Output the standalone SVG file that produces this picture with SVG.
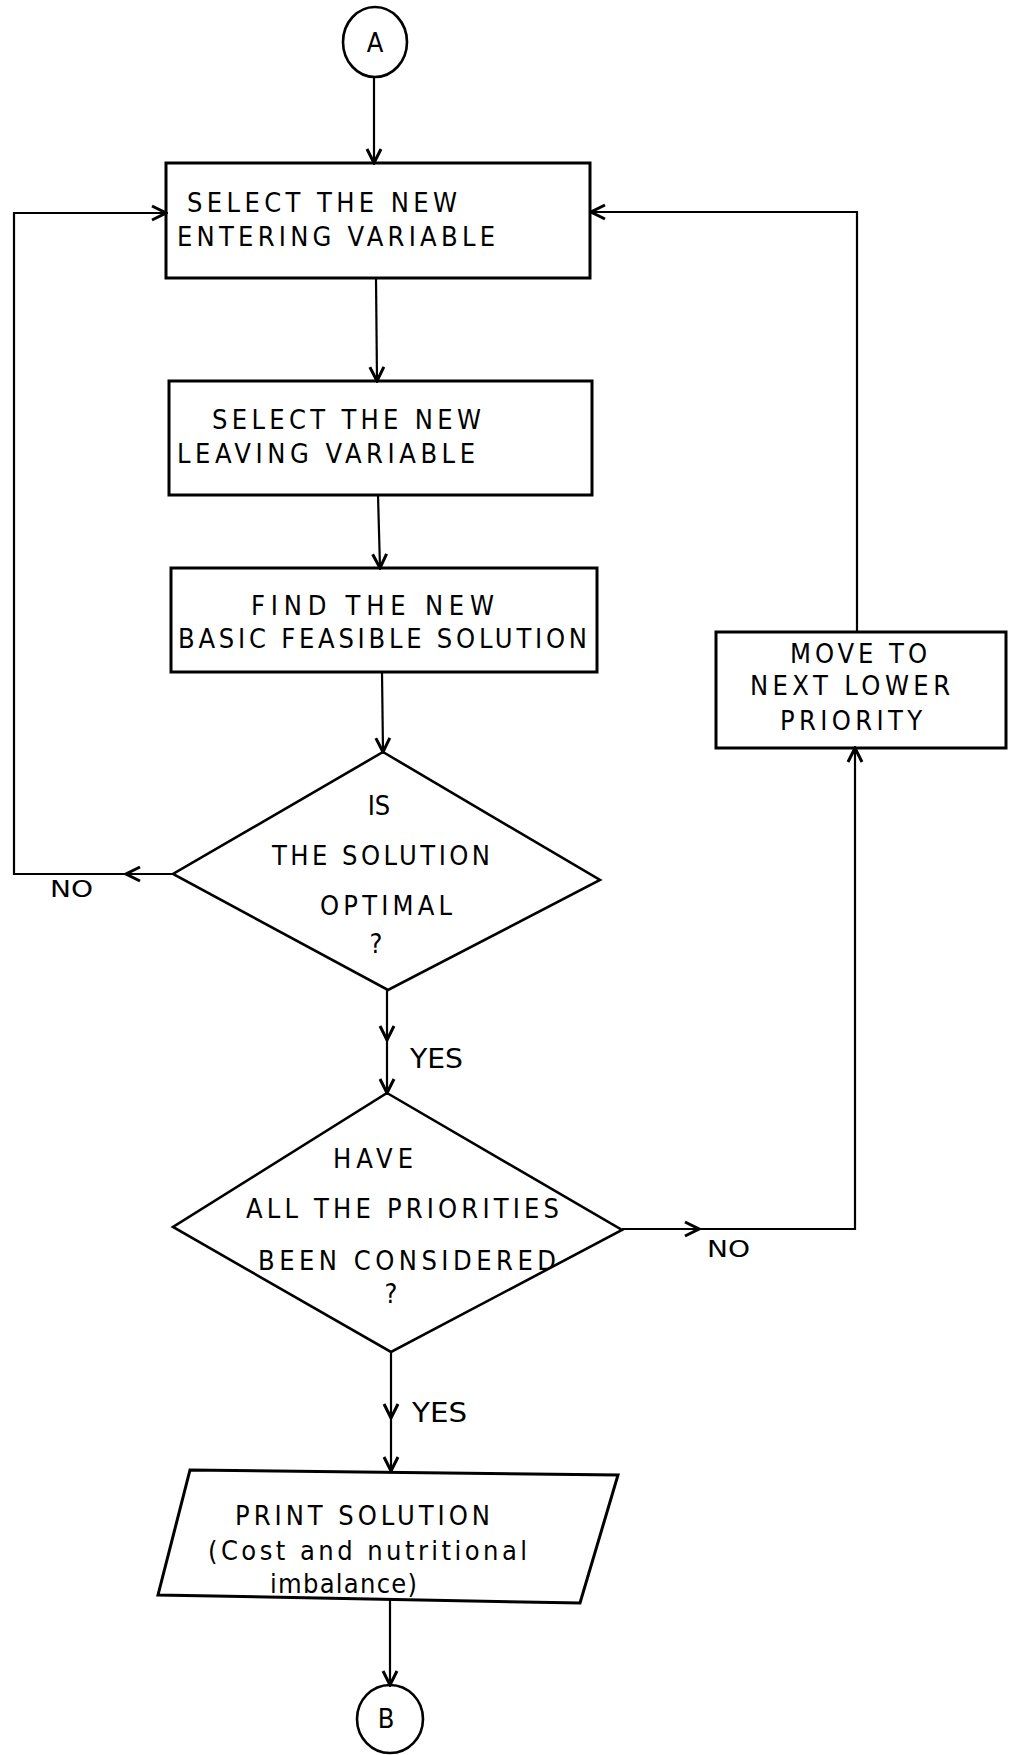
<svg xmlns="http://www.w3.org/2000/svg" width="1009" height="1755" viewBox="0 0 1009 1755">
<style>
  .node { fill: none; stroke: #000; stroke-width: 3; stroke-linejoin: miter; }
  .dia { fill: none; stroke: #000; stroke-width: 2.6; stroke-linejoin: miter; }
  .conn { fill: none; stroke: #000; stroke-width: 2.2; }
  text { font-family: "Liberation Sans Narrow", "DejaVu Sans Condensed", "Liberation Sans", Arial, sans-serif; font-size: 27px; fill: #000; }
  .lbl { font-size: 23px; }
  .mid { text-anchor: middle; }
</style>
<defs>
  <marker id="arr" markerUnits="userSpaceOnUse" markerWidth="20" markerHeight="20" viewBox="0 0 20 20" refX="18" refY="10" orient="auto">
    <path d="M4,3 L18,10 L4,17" fill="none" stroke="#000" stroke-width="3" stroke-linejoin="miter"/>
  </marker>
</defs>

<g id="connectors">
  <line class="conn" x1="374" y1="77" x2="374" y2="163" marker-end="url(#arr)"/>
  <line class="conn" x1="376" y1="278" x2="377" y2="381" marker-end="url(#arr)"/>
  <line class="conn" x1="378" y1="495" x2="380" y2="568" marker-end="url(#arr)"/>
  <line class="conn" x1="382" y1="672" x2="383" y2="752" marker-end="url(#arr)"/>
  <line class="conn" x1="173" y1="874" x2="126" y2="874" marker-end="url(#arr)"/>
  <polyline class="conn" points="126,874 14,874 14,213 166,213" marker-end="url(#arr)"/>
  <line class="conn" x1="387" y1="990" x2="387" y2="1040" marker-end="url(#arr)"/>
  <line class="conn" x1="387" y1="1040" x2="387" y2="1093" marker-end="url(#arr)"/>
  <line class="conn" x1="622" y1="1229" x2="699" y2="1229" marker-end="url(#arr)"/>
  <polyline class="conn" points="699,1229 855,1229 855,748" marker-end="url(#arr)"/>
  <polyline class="conn" points="857,632 857,212 591,212" marker-end="url(#arr)"/>
  <line class="conn" x1="391" y1="1352" x2="391" y2="1418" marker-end="url(#arr)"/>
  <line class="conn" x1="391" y1="1418" x2="391" y2="1471" marker-end="url(#arr)"/>
  <line class="conn" x1="390" y1="1600" x2="390" y2="1685" marker-end="url(#arr)"/>
  <text class="lbl" x="50" y="897" textLength="43" lengthAdjust="spacingAndGlyphs">NO</text>
  <text x="410" y="1068" textLength="53" lengthAdjust="spacingAndGlyphs">YES</text>
  <text class="lbl" x="707" y="1257" textLength="43" lengthAdjust="spacingAndGlyphs">NO</text>
  <text x="412" y="1422" textLength="55" lengthAdjust="spacingAndGlyphs">YES</text>
</g>

<g id="start-A">
  <ellipse class="dia" cx="375" cy="42" rx="32" ry="35"/>
  <text class="mid" x="375" y="52">A</text>
</g>

<g id="select-entering">
  <rect class="node" x="166" y="163" width="424" height="115"/>
  <text x="187" y="212" textLength="270" lengthAdjust="spacing">SELECT THE NEW</text>
  <text x="177" y="246" textLength="318" lengthAdjust="spacing">ENTERING VARIABLE</text>
</g>

<g id="select-leaving">
  <rect class="node" x="169" y="381" width="423" height="114"/>
  <text x="212" y="429" textLength="269" lengthAdjust="spacing">SELECT THE NEW</text>
  <text x="177" y="463" textLength="298" lengthAdjust="spacing">LEAVING VARIABLE</text>
</g>

<g id="find-bfs">
  <rect class="node" x="171" y="568" width="426" height="104"/>
  <text x="251" y="615" textLength="243" lengthAdjust="spacing">FIND THE  NEW</text>
  <text x="178" y="648" textLength="409" lengthAdjust="spacing">BASIC FEASIBLE SOLUTION</text>
</g>

<g id="is-optimal">
  <polygon class="dia" points="383,752 600,880 388,990 173,874"/>
  <text class="mid" x="379" y="815">IS</text>
  <text x="272" y="865" textLength="218" lengthAdjust="spacing">THE SOLUTION</text>
  <text x="320" y="915" textLength="132" lengthAdjust="spacing">OPTIMAL</text>
  <text class="mid" x="376" y="953">?</text>
</g>

<g id="all-priorities">
  <polygon class="dia" points="387,1093 622,1230 391,1352 173,1227"/>
  <text x="333" y="1168" textLength="80" lengthAdjust="spacing">HAVE</text>
  <text x="246" y="1218" textLength="313" lengthAdjust="spacing">ALL THE PRIORITIES</text>
  <text x="258" y="1270" textLength="298" lengthAdjust="spacing">BEEN  CONSIDERED</text>
  <text class="mid" x="391" y="1303">?</text>
</g>

<g id="move-lower">
  <rect class="node" x="716" y="632" width="290" height="116"/>
  <text x="790" y="663" textLength="137" lengthAdjust="spacing">MOVE TO</text>
  <text x="750" y="695" textLength="200" lengthAdjust="spacing">NEXT LOWER</text>
  <text x="780" y="730" textLength="142" lengthAdjust="spacing">PRIORITY</text>
</g>

<g id="print-solution">
  <polygon class="node" points="190,1470 618,1475 580,1603 158,1595"/>
  <text x="235" y="1525" textLength="255" lengthAdjust="spacing">PRINT SOLUTION</text>
  <text x="208" y="1560" textLength="319" lengthAdjust="spacing">(Cost  and  nutritional</text>
  <text x="270" y="1593" textLength="147" lengthAdjust="spacing">imbalance)</text>
</g>

<g id="end-B">
  <ellipse class="dia" cx="390" cy="1719" rx="33" ry="34"/>
  <text class="mid" x="386" y="1728">B</text>
</g>
</svg>
